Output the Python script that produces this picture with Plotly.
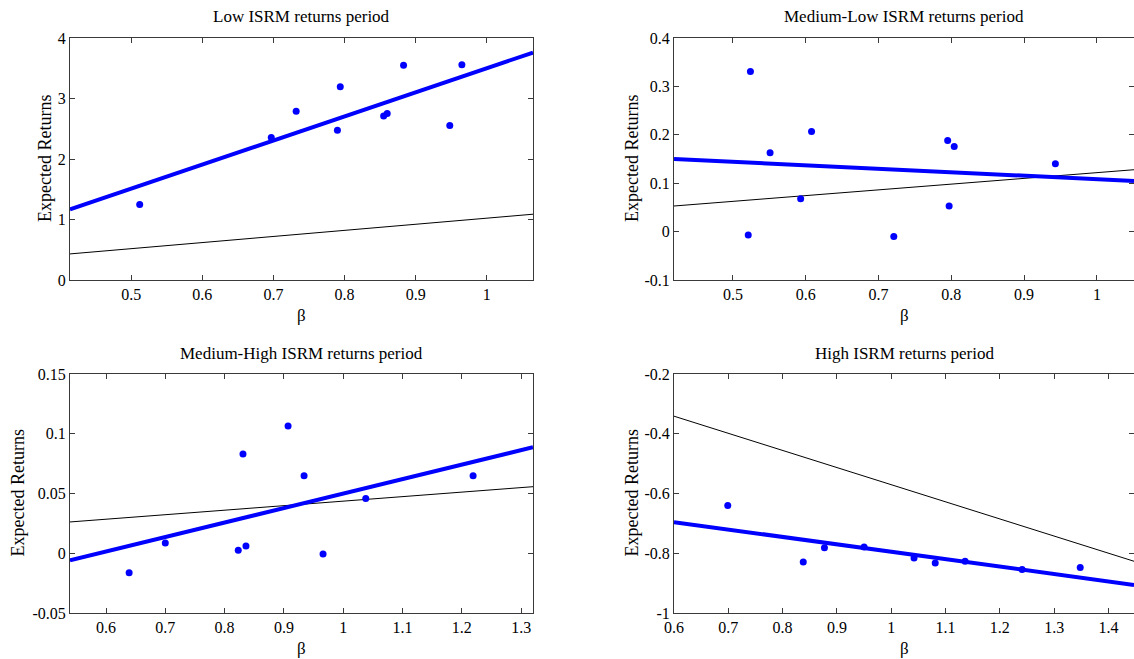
import numpy as np
import plotly.graph_objects as go

W, H = 1134, 659
FONT = "Liberation Serif"

titles = ["Low ISRM returns period", "Medium-Low ISRM returns period",
          "Medium-High ISRM returns period", "High ISRM returns period"]

# beta / expected return observations per panel
beta_low = [0.512, 0.697, 0.732, 0.790, 0.794, 0.855, 0.860, 0.883, 0.948, 0.965]
ret_low = [1.247, 2.356, 2.790, 2.477, 3.194, 2.709, 2.753, 3.548, 2.554, 3.559]

beta_mlow = [0.524, 0.521, 0.551, 0.593, 0.608, 0.721, 0.795, 0.804, 0.797, 0.943]
ret_mlow = [0.331, -0.007, 0.163, 0.068, 0.207, -0.010, 0.188, 0.176, 0.053, 0.140]

beta_mhigh = [0.639, 0.700, 0.823, 0.836, 0.831, 0.907, 0.934, 0.966, 1.038, 1.219]
ret_mhigh = [-0.0163, 0.0086, 0.0025, 0.0061, 0.083, 0.1065, 0.0648, -0.0006, 0.0458, 0.0648]

beta_high = [0.699, 0.838, 0.877, 0.950, 1.042, 1.081, 1.136, 1.241, 1.348]
ret_high = [-0.640, -0.829, -0.782, -0.779, -0.816, -0.833, -0.827, -0.854, -0.848]

# theoretical (security market) line: intercept, slope per panel
sml_intercept = [0.014, 0.0032, 0.0058, 0.0028]
sml_slope = [1.008, 0.1186, 0.0378, -0.5733]

# axis ranges and ticks
x_ranges = [[0.414, 1.065], [0.419, 1.051], [0.5393, 1.32], [0.6, 1.447]]
y_ranges = [[0, 4], [-0.1, 0.4], [-0.05, 0.15], [-1, -0.2]]
x_tickvals = [[0.5, 0.6, 0.7, 0.8, 0.9, 1.0],
              [0.5, 0.6, 0.7, 0.8, 0.9, 1.0],
              [0.6, 0.7, 0.8, 0.9, 1.0, 1.1, 1.2, 1.3],
              [0.6, 0.7, 0.8, 0.9, 1.0, 1.1, 1.2, 1.3, 1.4]]
x_ticktext = [["0.5", "0.6", "0.7", "0.8", "0.9", "1"],
              ["0.5", "0.6", "0.7", "0.8", "0.9", "1"],
              ["0.6", "0.7", "0.8", "0.9", "1", "1.1", "1.2", "1.3"],
              ["0.6", "0.7", "0.8", "0.9", "1", "1.1", "1.2", "1.3", "1.4"]]
y_tickvals = [[0, 1, 2, 3, 4],
              [-0.1, 0, 0.1, 0.2, 0.3, 0.4],
              [-0.05, 0, 0.05, 0.1, 0.15],
              [-1, -0.8, -0.6, -0.4, -0.2]]
y_ticktext = [["0", "1", "2", "3", "4"],
              ["-0.1", "0", "0.1", "0.2", "0.3", "0.4"],
              ["-0.05", "0", "0.05", "0.1", "0.15"],
              ["-1", "-0.8", "-0.6", "-0.4", "-0.2"]]

betas = [beta_low, beta_mlow, beta_mhigh, beta_high]
rets = [ret_low, ret_mlow, ret_mhigh, ret_high]

# layout in pixels
col_x = [(70, 533), (674, 1134)]
row_y = [(38, 280), (374, 613)]
ylab_x = [45, 632, 18, 632]

fig = go.Figure()
layout = dict(width=W, height=H, margin=dict(l=0, r=0, t=0, b=0),
              paper_bgcolor="white", plot_bgcolor="white", showlegend=False,
              template="none", font=dict(family=FONT, size=16, color="black"))
annotations = []

for i in range(4):
    r, c = divmod(i, 2)
    x0, x1 = col_x[c]
    yt, yb = row_y[r]
    xd = [x0 / W, min(x1 / W, 1.0)]
    yd = [1 - yb / H, 1 - yt / H]
    xa = "xaxis" if i == 0 else f"xaxis{i+1}"
    ya = "yaxis" if i == 0 else f"yaxis{i+1}"
    xref = "x" if i == 0 else f"x{i+1}"
    yref = "y" if i == 0 else f"y{i+1}"
    common = dict(showline=True, linecolor="#3a3a3a", linewidth=1, mirror="ticks",
                  ticks="inside", ticklen=5, tickcolor="#3a3a3a", tickwidth=1,
                  showgrid=False, zeroline=False, automargin=False,
                  tickfont=dict(family=FONT, size=16, color="black"))
    layout[xa] = dict(domain=xd, range=x_ranges[i], anchor=yref, tickmode="array",
                      tickvals=x_tickvals[i], ticktext=x_ticktext[i], **common)
    layout[ya] = dict(domain=yd, range=y_ranges[i], anchor=xref, tickmode="array",
                      tickvals=y_tickvals[i], ticktext=y_ticktext[i], **common)

    xs = np.array(x_ranges[i])
    # theoretical line
    fig.add_trace(go.Scatter(x=xs, y=sml_intercept[i] + sml_slope[i] * xs, mode="lines",
                             line=dict(color="black", width=1), xaxis=xref, yaxis=yref))
    # fitted regression line
    b, a = np.polyfit(betas[i], rets[i], 1)
    fig.add_trace(go.Scatter(x=xs, y=a + b * xs, mode="lines",
                             line=dict(color="#0000ff", width=4), xaxis=xref, yaxis=yref))
    # observations
    fig.add_trace(go.Scatter(x=betas[i], y=rets[i], mode="markers",
                             marker=dict(color="#0000ff", size=7), xaxis=xref, yaxis=yref))

    cx = (x0 + x1) / 2 / W
    annotations.append(dict(text=titles[i], x=cx, y=1 - (yt - 21) / H, xref="paper", yref="paper",
                            showarrow=False, xanchor="center", yanchor="middle",
                            font=dict(family=FONT, size=17, color="black")))
    annotations.append(dict(text="β", x=cx, y=1 - (yb + 35) / H, xref="paper", yref="paper",
                            showarrow=False, xanchor="center", yanchor="middle",
                            font=dict(family=FONT, size=17, color="black")))
    annotations.append(dict(text="Expected Returns", x=ylab_x[i] / W, y=1 - (yt + yb) / 2 / H,
                            xref="paper", yref="paper", textangle=-90,
                            showarrow=False, xanchor="center", yanchor="middle",
                            font=dict(family=FONT, size=18, color="black")))

layout["annotations"] = annotations
fig.update_layout(**layout)
fig.write_html("out.html", config={"displayModeBar": False, "staticPlot": True},
               post_script="document.body.style.margin='0';document.body.style.overflow='hidden';")
